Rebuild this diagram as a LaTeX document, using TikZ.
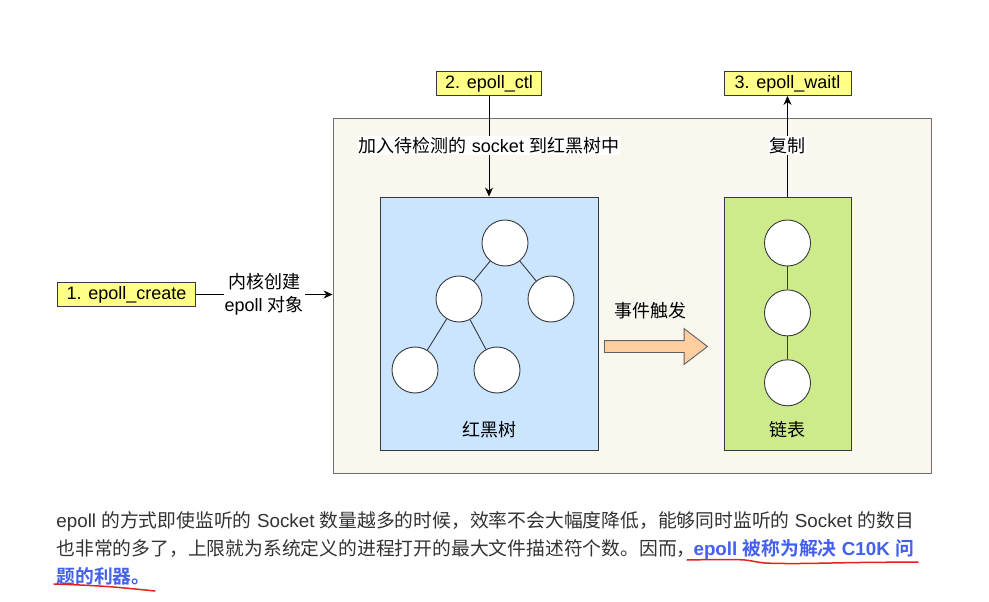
\documentclass[tikz,border=0pt]{standalone}
\usepackage{fontspec}
\setmainfont{Liberation Sans}
\newfontfamily\hanzi{Noto Sans CJK SC}[BoldFont={Noto Sans CJK SC Bold}]
\usetikzlibrary{positioning,shapes.arrows,arrows.meta}
\definecolor{kernfill}{HTML}{F9F7EE}
\definecolor{kernline}{HTML}{6F6F6F}
\definecolor{boxline}{HTML}{36393D}
\definecolor{treeblue}{HTML}{CCE5FF}
\definecolor{listgreen}{HTML}{CDEB8B}
\definecolor{callyellow}{HTML}{FFFF88}
\definecolor{trigorange}{HTML}{FFCE9F}
\definecolor{txtgray}{HTML}{333333}
\definecolor{hlblue}{HTML}{4361EE}
\definecolor{penred}{HTML}{E3221E}

\begin{document}
\begin{tikzpicture}[x=1pt,y=-1pt,line width=0.9pt,font=\fontsize{18}{23}\selectfont,
  ball/.style={circle,draw=boxline,fill=white,minimum size=46pt,inner sep=0pt},
  callbox/.style={draw=boxline,fill=callyellow,minimum height=24pt,inner xsep=9pt,inner ysep=0pt},
  lab/.style={fill=white,inner sep=1pt,align=center},
  conn/.style={draw=black,-{Stealth[length=9pt,width=8pt]}},
  para/.style={anchor=west,inner sep=0pt,text=txtgray,font=\fontsize{18.8}{23}\selectfont},
  level 1/.style={sibling distance=92pt,level distance=56pt},
  level 2/.style={sibling distance=82pt,level distance=71pt},
  edge from parent/.style={draw=boxline}]
\fill[white] (0,0) rectangle (989,602);
\useasboundingbox (0,0) rectangle (989,602);

% kernel area
\node[draw=kernline,fill=kernfill,minimum width=598pt,minimum height=355pt] (kern) at (632,295.5) {};
\node[draw=boxline,fill=treeblue,minimum width=218pt,minimum height=253pt] (rbt) at (489,323.5) {};
\node[draw=boxline,fill=listgreen,minimum width=127pt,minimum height=253pt] (lst) at (787.5,323.5) {};
\node (rbtlab) at (489,430) {\hanzi 红黑树};
\node (lstlab) at (787.5,430) {\hanzi 链表};

% red-black tree
\node[ball] (r) at (505,243) {}
  child {node[ball] (r1) {}
    child[xshift=-3pt] {node[ball] (r11) {}}
    child[xshift=-3pt] {node[ball] (r12) {}}
  }
  child {node[ball] (r2) {}};

% ready list
\node[ball] (l1) at (787.5,243) {};
\node[ball,below=23pt of l1] (l2) {};
\node[ball,below=23pt of l2] (l3) {};
\draw[boxline] (l1) -- (l2) -- (l3);

% event arrow
\node[single arrow,draw=boxline!80,fill=trigorange,anchor=tail,minimum height=103pt,
  inner sep=5.5pt,single arrow head extend=12pt,single arrow tip angle=75] (trig) at (604,346.5) {};
\node (triglab) at (650,311) {\hanzi 事件触发};

% calls
\node[callbox] (create) at (126.5,294.5) {1. epoll\_create};
\node[callbox] (ctl) at (489,83.5) {2. epoll\_ctl};
\node[callbox,minimum width=127pt] (wait) at (787.5,83.5) {3. epoll\_waitl};

\draw[conn] (create) -- node[lab] {{\hanzi 内核创建}\\epoll {\hanzi 对象}} (create -| kern.west);
\draw[conn] (ctl) -- node[lab,pos=0.49] {{\hanzi 加入待检测的} socket {\hanzi 到红黑树中}} (rbt.north);
\draw[conn] (lst.north) -- node[lab,pos=0.51] {\hanzi 复制} (wait);

% text below
\node[para] (p1) at (56,521) {epoll {\hanzi 的方式即使监听的} Socket {\hanzi 数量越多的时候，效率不会大幅度降低，能够同时监听的} Socket {\hanzi 的数目}};
\node[para] (p2) at (56,548.5) {\hanzi 也非常的多了，上限就为系统定义的进程打开的最大文件描述符个数。因而，};
\node[para,anchor=base west,text=hlblue,font=\fontsize{18.8}{23}\selectfont\bfseries,xshift=-3pt] (hl1) at (p2.base east) {epoll {\hanzi 被称为解决} C10K {\hanzi 问}};
\node[para,text=hlblue,font=\fontsize{18.8}{23}\selectfont\bfseries] (hl2) at (56,576) {\hanzi 题的利器。};

\draw[penred,line width=1.5pt,line cap=round] plot[smooth] coordinates {(687,560) (720,559.5) (745,560) (765,563) (800,563.5) (860,562.5) (918,562)};
\draw[penred,line width=1.5pt,line cap=round] plot[smooth] coordinates {(54,584) (80,585) (107,586.5) (130,588.5) (155,591)};
\end{tikzpicture}
\end{document}
